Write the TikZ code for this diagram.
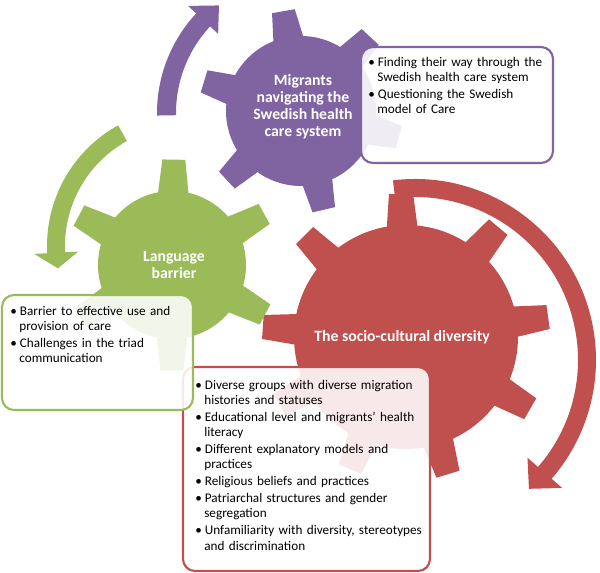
\documentclass[tikz,border=0pt]{standalone}
\usepackage{fontspec}
\setmainfont{Carlito}
\usepackage{tikz}

\definecolor{migpurple}{HTML}{8064A2}
\definecolor{langgreen}{HTML}{9BBB59}
\definecolor{socred}{HTML}{C0504D}

\newenvironment{notelist}{\begin{list}{\textbullet}{%
  \setlength{\leftmargin}{6.8pt}\setlength{\labelwidth}{4.5pt}%
  \setlength{\labelsep}{2.3pt}\setlength{\itemsep}{1.5pt}%
  \setlength{\parsep}{0pt}\setlength{\topsep}{0pt}\setlength{\partopsep}{0pt}}}%
  {\end{list}}

\tikzset{
  gearlabel/.style={text=white, font=\bfseries\fontsize{11.8}{12.8}\selectfont, align=center},
  notebox/.style={line width=1.6pt, rounded corners=9pt, fill=white, fill opacity=0.88},
  notetext/.style={anchor=north west, inner sep=0pt, font=\fontsize{9.9}{11.3}\selectfont},
}

\begin{document}
\begin{tikzpicture}[x=0.75pt, y=0.75pt]
        \useasboundingbox (0,0) rectangle (600,572);

        % socio-cultural gear
        \begin{scope}[shift={(406,235)}]
            \fill[socred] (0,0) circle[radius=112];
            \foreach \a in {176,135,92,50,8,-30,-73,-113,-152}
                \fill[socred] ({\a-8.6}:106) -- ({\a-4.8}:144) -- ({\a+4.8}:144) -- ({\a+8.6}:106) -- cycle;
        \end{scope}
        \begin{scope}[shift={(415,212)}]
            \fill[socred] (97:181) arc[start angle=97, end angle=-41, radius=181] -- (-41:195) -- (-48.5:172)
                -- (-41:149) -- (-41:163) arc[start angle=-41, end angle=97, radius=163] -- cycle;
        \end{scope}

        % migrants gear
        \begin{scope}[shift={(301,461)}]
            \fill[migpurple] (0,0) circle[radius=75];
            \foreach \a in {47,100,163,223,283,345}
                \fill[migpurple] ({\a-13.3}:69) -- ({\a-6.5}:102) -- ({\a+6.5}:102) -- ({\a+13.3}:69) -- cycle;
        \end{scope}
        \begin{scope}[shift={(303,459)}]
            \fill[migpurple] (181:146) arc[start angle=181, end angle=137, radius=146] -- (137:157) -- (128:136.5)
                -- (137:116) -- (137:127) arc[start angle=137, end angle=181, radius=127] -- cycle;
        \end{scope}

        % language gear
        \begin{scope}[shift={(172,307)}]
            \fill[langgreen] (0,0) circle[radius=74];
            \foreach \a in {152,89,29,-28,-90,-150}
                \fill[langgreen] ({\a-13.5}:68) -- ({\a-6.2}:106) -- ({\a+6.2}:106) -- ({\a+13.5}:68) -- cycle;
        \end{scope}
        \begin{scope}[shift={(185,326)}]
            \fill[langgreen] (119:138) arc[start angle=119, end angle=183, radius=138] -- (183:151) -- (190:129)
                -- (183:107) -- (183:120) arc[start angle=183, end angle=119, radius=120] -- cycle;
        \end{scope}

        % gear labels
        \node[gearlabel] (migrants) at (303,465) {Migrants\\navigating the\\Swedish health\\care system};
        \node[gearlabel] (language) at (174,307) {Language\\barrier};
        \node[gearlabel] (diversity) at (402,235) {The socio-cultural diversity};

        % note boxes
        \draw[notebox, draw=migpurple] (361,525) rectangle (553,409);
        \draw[notebox, draw=socred] (183,205) rectangle (430,1);
        \draw[notebox, draw=langgreen] (2,277) rectangle (193,162);

        \node[notetext, text width=132pt] (migrantnotes) at (368,521) {\raggedright
            \begin{notelist}
            \item Finding their way through the Swedish health care system
            \item Questioning the Swedish model of Care
            \end{notelist}};
        \node[notetext, text width=121.5pt] (languagenotes) at (10,272) {\raggedright
            \begin{notelist}
            \item Barrier to effective use and provision of care
            \item Challenges in the triad communication
            \end{notelist}};
        \node[notetext, text width=174pt] (diversitynotes) at (195,198) {\raggedright
            \begin{notelist}
            \item Diverse groups with diverse migration histories and statuses
            \item Educational level and migrants’ health literacy
            \item Different explanatory models and practices
            \item Religious beliefs and practices
            \item Patriarchal structures and gender segregation
            \item Unfamiliarity with diversity, stereotypes and discrimination
            \end{notelist}};

    \end{tikzpicture}
\end{document}
